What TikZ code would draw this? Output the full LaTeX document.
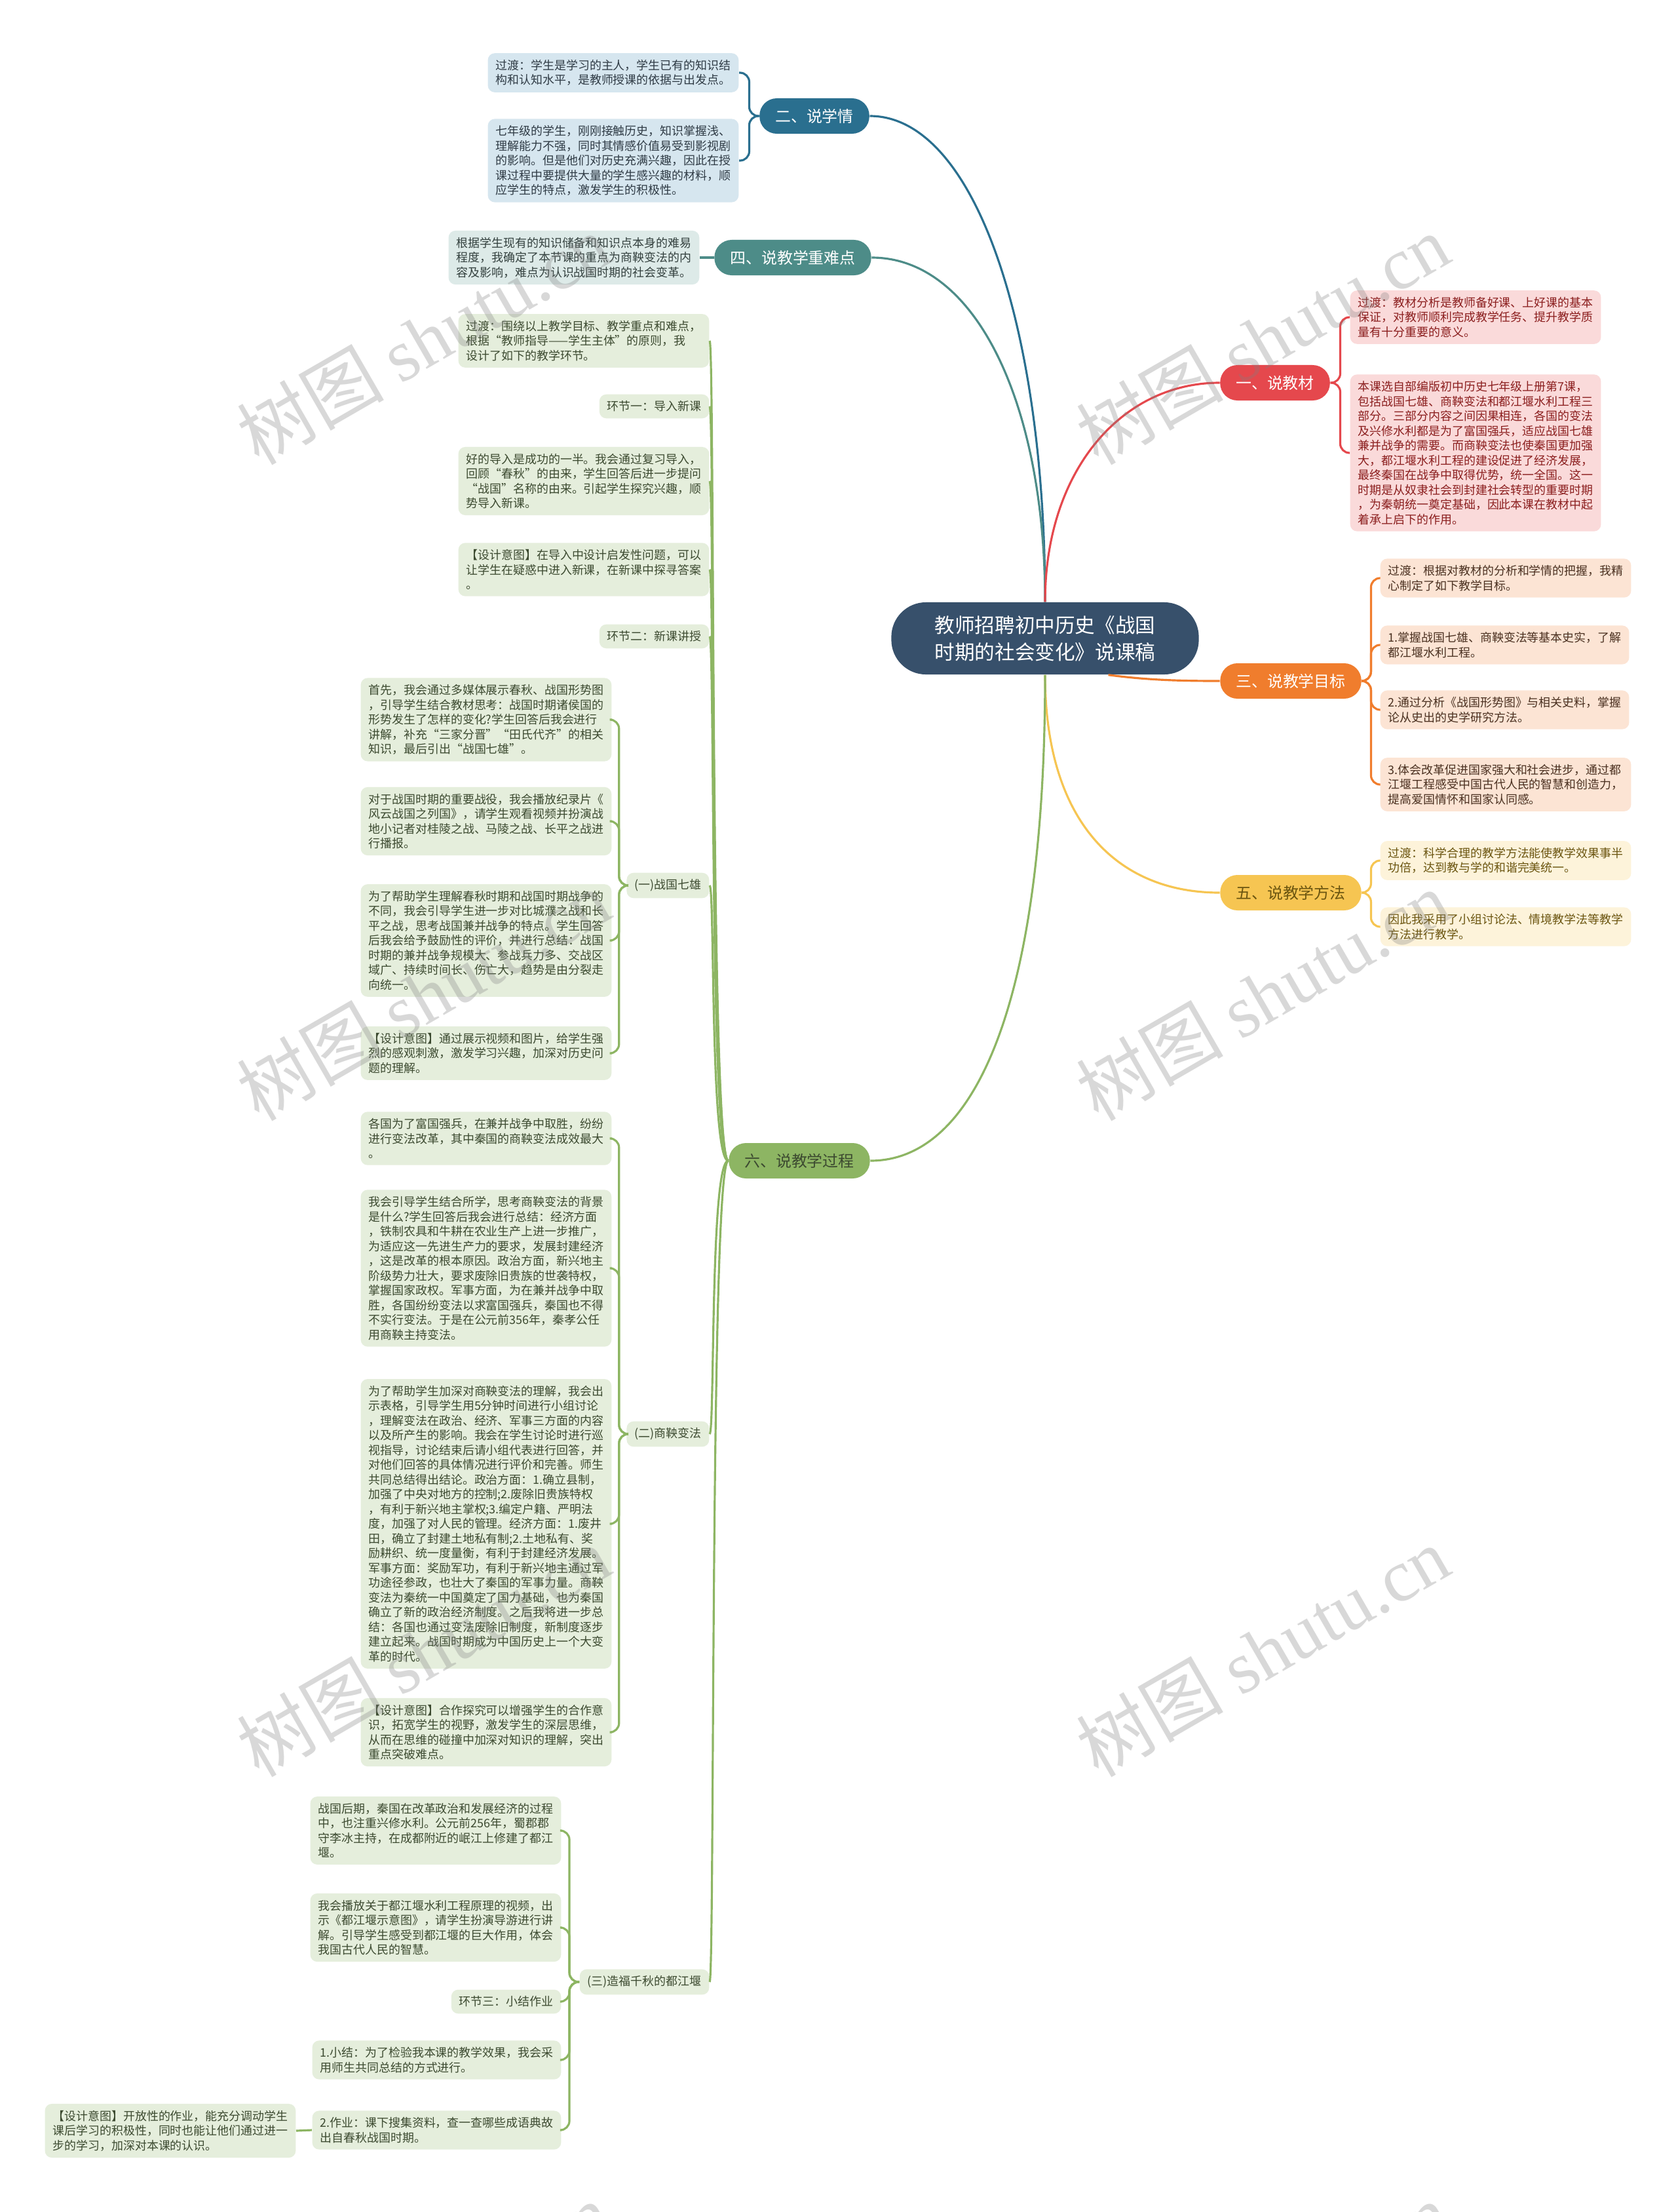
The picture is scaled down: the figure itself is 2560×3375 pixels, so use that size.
\documentclass[tikz,border=0pt]{standalone}
\usepackage{fontspec}
\setmainfont{Noto Sans CJK SC}
\newfontfamily\wmlatin{Liberation Serif}
\definecolor{rootblue}{RGB}{55,80,107}
\definecolor{xqline}{RGB}{42,111,143}
\definecolor{xqfill}{RGB}{214,230,239}
\definecolor{xqtxt}{RGB}{47,59,69}
\definecolor{zdline}{RGB}{77,140,136}
\definecolor{zdfill}{RGB}{221,234,232}
\definecolor{zdtxt}{RGB}{51,64,62}
\definecolor{jcline}{RGB}{229,72,77}
\definecolor{jcfill}{RGB}{250,218,218}
\definecolor{jctxt}{RGB}{139,30,30}
\definecolor{mbline}{RGB}{240,125,45}
\definecolor{mbfill}{RGB}{252,228,212}
\definecolor{mbtxt}{RGB}{74,48,32}
\definecolor{ffline}{RGB}{246,197,82}
\definecolor{fffill}{RGB}{253,243,218}
\definecolor{fftxt}{RGB}{107,85,16}
\definecolor{gcline}{RGB}{141,181,99}
\definecolor{gcfill}{RGB}{229,238,220}
\definecolor{gctxt}{RGB}{60,74,48}

\begin{document}
\begin{tikzpicture}[x=0.01cm, y=-0.01cm,
    rootbox/.style={rounded corners=15pt, fill=rootblue, text=white, align=center,
      minimum width=4.69cm, minimum height=1.1cm, font=\fontsize{8.7}{11.7}\selectfont},
    branch/.style={rounded corners=7.5pt, fill=#1, text=white, minimum height=0.54cm,
      inner xsep=0.24cm, font=\fontsize{6.8}{8}\selectfont},
    leaf/.style={rounded corners=3pt, fill=#1fill, text=#1txt, align=left,
      inner xsep=0.12cm, inner ysep=0.1cm, font=\fontsize{5.1}{6.4}\selectfont},
    link/.style={draw=#1, line width=0.9pt, rounded corners=4pt},
    wmark/.style={rotate=30, text=gray, opacity=0.3, font=\fontsize{32}{32}\selectfont}]
  \useasboundingbox (0,0) rectangle (2560,3375);
  \fill[white] (0,0) rectangle (2560,3375);

  % root
  \node[rootbox] (root) at (1595,974) {教师招聘初中历史《战国\\时期的社会变化》说课稿};

  % main branches
  \node[branch=xqline] (xq) at (1243,177) {二、说学情};
  \node[branch=zdline] (zd) at (1210,393) {四、说教学重难点};
  \node[branch=jcline] (jc) at (1946,584) {一、说教材};
  \node[branch=mbline] (mb) at (1970,1039) {三、说教学目标};
  \node[branch=ffline, text=fftxt] (ff) at (1970,1362) {五、说教学方法};
  \node[branch=gcline, text=gctxt] (gc) at (1220,1771) {六、说教学过程};

  \draw[link=xqline] (root.north) .. controls +(0,-420) and +(160,0) .. (xq.east);
  \draw[link=zdline] (root.north) .. controls +(0,-300) and +(160,0) .. (zd.east);
  \draw[link=jcline] (root.north) .. controls +(0,-200) and +(-150,0) .. (jc.west);
  \draw[link=mbline] (root.-30) .. controls +(60,8) and +(-60,0) .. (mb.west);
  \draw[link=ffline] (root.south) .. controls +(0,220) and +(-160,0) .. (ff.west);
  \draw[link=gcline] (root.south) .. controls +(0,500) and +(160,0) .. (gc.east);

  % 二、说学情
  \node[leaf=xq, anchor=east] (xq1) at (1128,111) {过渡：学生是学习的主人，学生已有的知识结\\构和认知水平，是教师授课的依据与出发点。};
  \node[leaf=xq, anchor=east] (xq2) at (1128,245) {七年级的学生，刚刚接触历史，知识掌握浅、\\理解能力不强，同时其情感价值易受到影视剧\\的影响。但是他们对历史充满兴趣，因此在授\\课过程中要提供大量的学生感兴趣的材料，顺\\应学生的特点，激发学生的积极性。};
  \foreach \c in {xq1,xq2}
    \draw[link=xqline] (xq.west) -- ++(-15,0) |- (\c.east);

  % 四、说教学重难点
  \node[leaf=zd, anchor=east] (zd1) at (1068,393) {根据学生现有的知识储备和知识点本身的难易\\程度，我确定了本节课的重点为商鞅变法的内\\容及影响，难点为认识战国时期的社会变革。};
  \draw[link=zdline] (zd.west) -- (zd1.east);

  % 一、说教材
  \node[leaf=jc, anchor=west] (jc1) at (2060,484) {过渡：教材分析是教师备好课、上好课的基本\\保证，对教师顺利完成教学任务、提升教学质\\量有十分重要的意义。};
  \node[leaf=jc, anchor=west] (jc2) at (2060,691) {本课选自部编版初中历史七年级上册第7课，\\包括战国七雄、商鞅变法和都江堰水利工程三\\部分。三部分内容之间因果相连，各国的变法\\及兴修水利都是为了富国强兵，适应战国七雄\\兼并战争的需要。而商鞅变法也使秦国更加强\\大，都江堰水利工程的建设促进了经济发展，\\最终秦国在战争中取得优势，统一全国。这一\\时期是从奴隶社会到封建社会转型的重要时期\\，为秦朝统一奠定基础，因此本课在教材中起\\着承上启下的作用。};
  \foreach \c in {jc1,jc2}
    \draw[link=jcline] (jc.east) -- ++(15,0) |- (\c.west);

  % 三、说教学目标
  \node[leaf=mb, anchor=west] (mb1) at (2106,882) {过渡：根据对教材的分析和学情的把握，我精\\心制定了如下教学目标。};
  \node[leaf=mb, anchor=west] (mb2) at (2106,984) {1.掌握战国七雄、商鞅变法等基本史实，了解\\都江堰水利工程。};
  \node[leaf=mb, anchor=west] (mb3) at (2106,1083) {2.通过分析《战国形势图》与相关史料，掌握\\论从史出的史学研究方法。};
  \node[leaf=mb, anchor=west] (mb4) at (2106,1197) {3.体会改革促进国家强大和社会进步，通过都\\江堰工程感受中国古代人民的智慧和创造力，\\提高爱国情怀和国家认同感。};
  \foreach \c in {mb1,mb2,mb3,mb4}
    \draw[link=mbline] (mb.east) -- ++(14,0) |- (\c.west);

  % 五、说教学方法
  \node[leaf=ff, anchor=west] (ff1) at (2106,1313) {过渡：科学合理的教学方法能使教学效果事半\\功倍，达到教与学的和谐完美统一。};
  \node[leaf=ff, anchor=west] (ff2) at (2106,1414) {因此我采用了小组讨论法、情境教学法等教学\\方法进行教学。};
  \foreach \c in {ff1,ff2}
    \draw[link=ffline] (ff.east) -- ++(14,0) |- (\c.west);

  % 六、说教学过程
  \node[leaf=gc, anchor=east] (gc1) at (1083,520) {过渡：围绕以上教学目标、教学重点和难点，\\根据“教师指导——学生主体”的原则，我\\设计了如下的教学环节。};
  \node[leaf=gc, anchor=east] (gc2) at (1083,620) {环节一：导入新课};
  \node[leaf=gc, anchor=east] (gc3) at (1083,734) {好的导入是成功的一半。我会通过复习导入，\\回顾“春秋”的由来，学生回答后进一步提问\\“战国”名称的由来。引起学生探究兴趣，顺\\势导入新课。};
  \node[leaf=gc, anchor=east] (gc4) at (1083,869) {【设计意图】在导入中设计启发性问题，可以\\让学生在疑惑中进入新课，在新课中探寻答案\\。};
  \node[leaf=gc, anchor=east] (gc5) at (1083,971) {环节二：新课讲授};
  \node[leaf=gc, anchor=east] (gc6) at (1083,1351) {(一)战国七雄};
  \node[leaf=gc, anchor=east] (gc7) at (1083,2188) {(二)商鞅变法};
  \node[leaf=gc, anchor=east] (gc8) at (1083,3024) {(三)造福千秋的都江堰};
  \foreach \c in {gc1,gc2,gc3,gc4,gc5,gc6,gc7,gc8}
    \draw[link=gcline] (gc.west) .. controls +(-28,0) and +(8,0) .. (\c.east);

  % (一)战国七雄
  \node[leaf=gc, anchor=east] (qx1) at (934,1098) {首先，我会通过多媒体展示春秋、战国形势图\\，引导学生结合教材思考：战国时期诸侯国的\\形势发生了怎样的变化?学生回答后我会进行\\讲解，补充“三家分晋”“田氏代齐”的相关\\知识，最后引出“战国七雄”。};
  \node[leaf=gc, anchor=east] (qx2) at (934,1253) {对于战国时期的重要战役，我会播放纪录片《\\风云战国之列国》，请学生观看视频并扮演战\\地小记者对桂陵之战、马陵之战、长平之战进\\行播报。};
  \node[leaf=gc, anchor=east] (qx3) at (934,1435) {为了帮助学生理解春秋时期和战国时期战争的\\不同，我会引导学生进一步对比城濮之战和长\\平之战，思考战国兼并战争的特点。学生回答\\后我会给予鼓励性的评价，并进行总结：战国\\时期的兼并战争规模大、参战兵力多、交战区\\域广、持续时间长、伤亡大，趋势是由分裂走\\向统一。};
  \node[leaf=gc, anchor=east] (qx4) at (934,1607) {【设计意图】通过展示视频和图片，给学生强\\烈的感观刺激，激发学习兴趣，加深对历史问\\题的理解。};
  \foreach \c in {qx1,qx2,qx3,qx4}
    \draw[link=gcline] (gc6.west) -- ++(-11,0) |- (\c.east);

  % (二)商鞅变法
  \node[leaf=gc, anchor=east] (sy1) at (934,1737) {各国为了富国强兵，在兼并战争中取胜，纷纷\\进行变法改革，其中秦国的商鞅变法成效最大\\。};
  \node[leaf=gc, anchor=east] (sy2) at (934,1935) {我会引导学生结合所学，思考商鞅变法的背景\\是什么?学生回答后我会进行总结：经济方面\\，铁制农具和牛耕在农业生产上进一步推广，\\为适应这一先进生产力的要求，发展封建经济\\，这是改革的根本原因。政治方面，新兴地主\\阶级势力壮大，要求废除旧贵族的世袭特权，\\掌握国家政权。军事方面，为在兼并战争中取\\胜，各国纷纷变法以求富国强兵，秦国也不得\\不实行变法。于是在公元前356年，秦孝公任\\用商鞅主持变法。};
  \node[leaf=gc, anchor=east] (sy3) at (934,2325) {为了帮助学生加深对商鞅变法的理解，我会出\\示表格，引导学生用5分钟时间进行小组讨论\\，理解变法在政治、经济、军事三方面的内容\\以及所产生的影响。我会在学生讨论时进行巡\\视指导，讨论结束后请小组代表进行回答，并\\对他们回答的具体情况进行评价和完善。师生\\共同总结得出结论。政治方面：1.确立县制，\\加强了中央对地方的控制;2.废除旧贵族特权\\，有利于新兴地主掌权;3.编定户籍、严明法\\度，加强了对人民的管理。经济方面：1.废井\\田，确立了封建土地私有制;2.土地私有、奖\\励耕织、统一度量衡，有利于封建经济发展。\\军事方面：奖励军功，有利于新兴地主通过军\\功途径参政，也壮大了秦国的军事力量。商鞅\\变法为秦统一中国奠定了国力基础，也为秦国\\确立了新的政治经济制度。之后我将进一步总\\结：各国也通过变法废除旧制度，新制度逐步\\建立起来。战国时期成为中国历史上一个大变\\革的时代。};
  \node[leaf=gc, anchor=east] (sy4) at (934,2643) {【设计意图】合作探究可以增强学生的合作意\\识，拓宽学生的视野，激发学生的深层思维，\\从而在思维的碰撞中加深对知识的理解，突出\\重点突破难点。};
  \foreach \c in {sy1,sy2,sy3,sy4}
    \draw[link=gcline] (gc7.west) -- ++(-11,0) |- (\c.east);

  % (三)造福千秋的都江堰
  \node[leaf=gc, anchor=east] (dj1) at (857,2793) {战国后期，秦国在改革政治和发展经济的过程\\中，也注重兴修水利。公元前256年，蜀郡郡\\守李冰主持，在成都附近的岷江上修建了都江\\堰。};
  \node[leaf=gc, anchor=east] (dj2) at (857,2941) {我会播放关于都江堰水利工程原理的视频，出\\示《都江堰示意图》，请学生扮演导游进行讲\\解。引导学生感受到都江堰的巨大作用，体会\\我国古代人民的智慧。};
  \node[leaf=gc, anchor=east] (dj3) at (857,3054) {环节三：小结作业};
  \node[leaf=gc, anchor=east] (dj4) at (857,3143) {1.小结：为了检验我本课的教学效果，我会采\\用师生共同总结的方式进行。};
  \node[leaf=gc, anchor=east] (dj5) at (857,3250) {2.作业：课下搜集资料，查一查哪些成语典故\\出自春秋战国时期。};
  \foreach \c in {dj1,dj2,dj3,dj4,dj5}
    \draw[link=gcline] (gc8.west) -- ++(-15,0) |- (\c.east);
  \node[leaf=gc, anchor=east] (dj6) at (452,3251) {【设计意图】开放性的作业，能充分调动学生\\课后学习的积极性，同时也能让他们通过进一\\步的学习，加深对本课的认识。};
  \draw[link=gcline] (dj5.west) -- (dj6.east);

  % watermarks
  \begin{scope}
    \clip (0,0) rectangle (2560,3375);
    \foreach \wx/\wy [count=\k] in {646/517, 1927/517, 646/1518, 1927/1518,
        646/2519, 1927/2519, 646/3520, 1927/3520}
      \node[wmark] (wm\k) at (\wx,\wy) {树图 {\wmlatin shutu.cn}};
  \end{scope}
\end{tikzpicture}
\end{document}
